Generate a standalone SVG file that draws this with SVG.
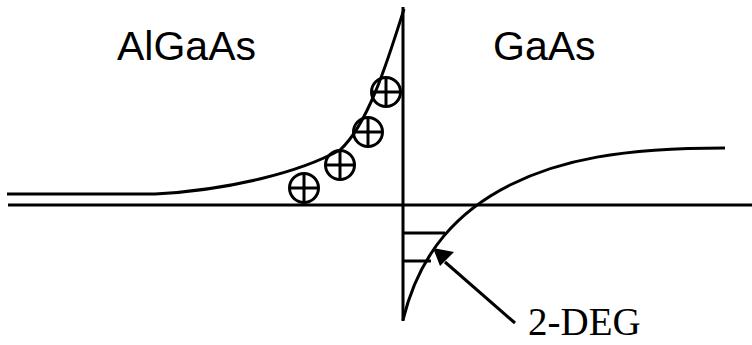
<svg xmlns="http://www.w3.org/2000/svg" width="752" height="345" viewBox="0 0 752 345">
<style>
.ln{fill:none;stroke:#000;stroke-width:3}
.lbl{font-family:"Liberation Sans",Arial,sans-serif;font-size:41px;fill:#000}
.ser{font-family:"Liberation Serif","Times New Roman",serif;font-size:39px;fill:#000}
.ion circle{fill:none;stroke:#000;stroke-width:3}
.ion path{stroke:#000;stroke-width:3}
</style>
<g id="connectors">
<path class="ln" d="M8 205 L752 205"/>
<path class="ln" d="M403 7 L403 321"/>
<path class="ln" d="M7 194 L155 194 C230 190 300 172 340 150 C368 125 388 60 404 9"/>
<path class="ln" d="M403 320 C420 250 460 210 510 185 C560 160 620 148 725 148"/>
<path class="ln" d="M403 233 L445 233 M403 261 L431 261"/>
<path class="ln" d="M515 323 L445 262"/>
<path d="M433 248 L454 252 L440 266 z" fill="#000"/>
</g>
<g id="ion1" class="ion"><circle cx="304" cy="188" r="14.5"/><path d="M289.5 188 H318.5 M304 173.5 V202.5"/></g>
<g id="ion2" class="ion"><circle cx="340" cy="165" r="14.5"/><path d="M325.5 165 H354.5 M340 150.5 V179.5"/></g>
<g id="ion3" class="ion"><circle cx="368" cy="132" r="14.5"/><path d="M353.5 132 H382.5 M368 117.5 V146.5"/></g>
<g id="ion4" class="ion"><circle cx="386" cy="92" r="14.5"/><path d="M371.5 92 H400.5 M386 77.5 V106.5"/></g>
<g id="label-algaas"><text class="lbl" x="117" y="60">AlGaAs</text></g>
<g id="label-gaas"><text class="lbl" x="493" y="60">GaAs</text></g>
<g id="label-2deg"><text class="ser" x="528" y="335">2-DEG</text></g>
</svg>
